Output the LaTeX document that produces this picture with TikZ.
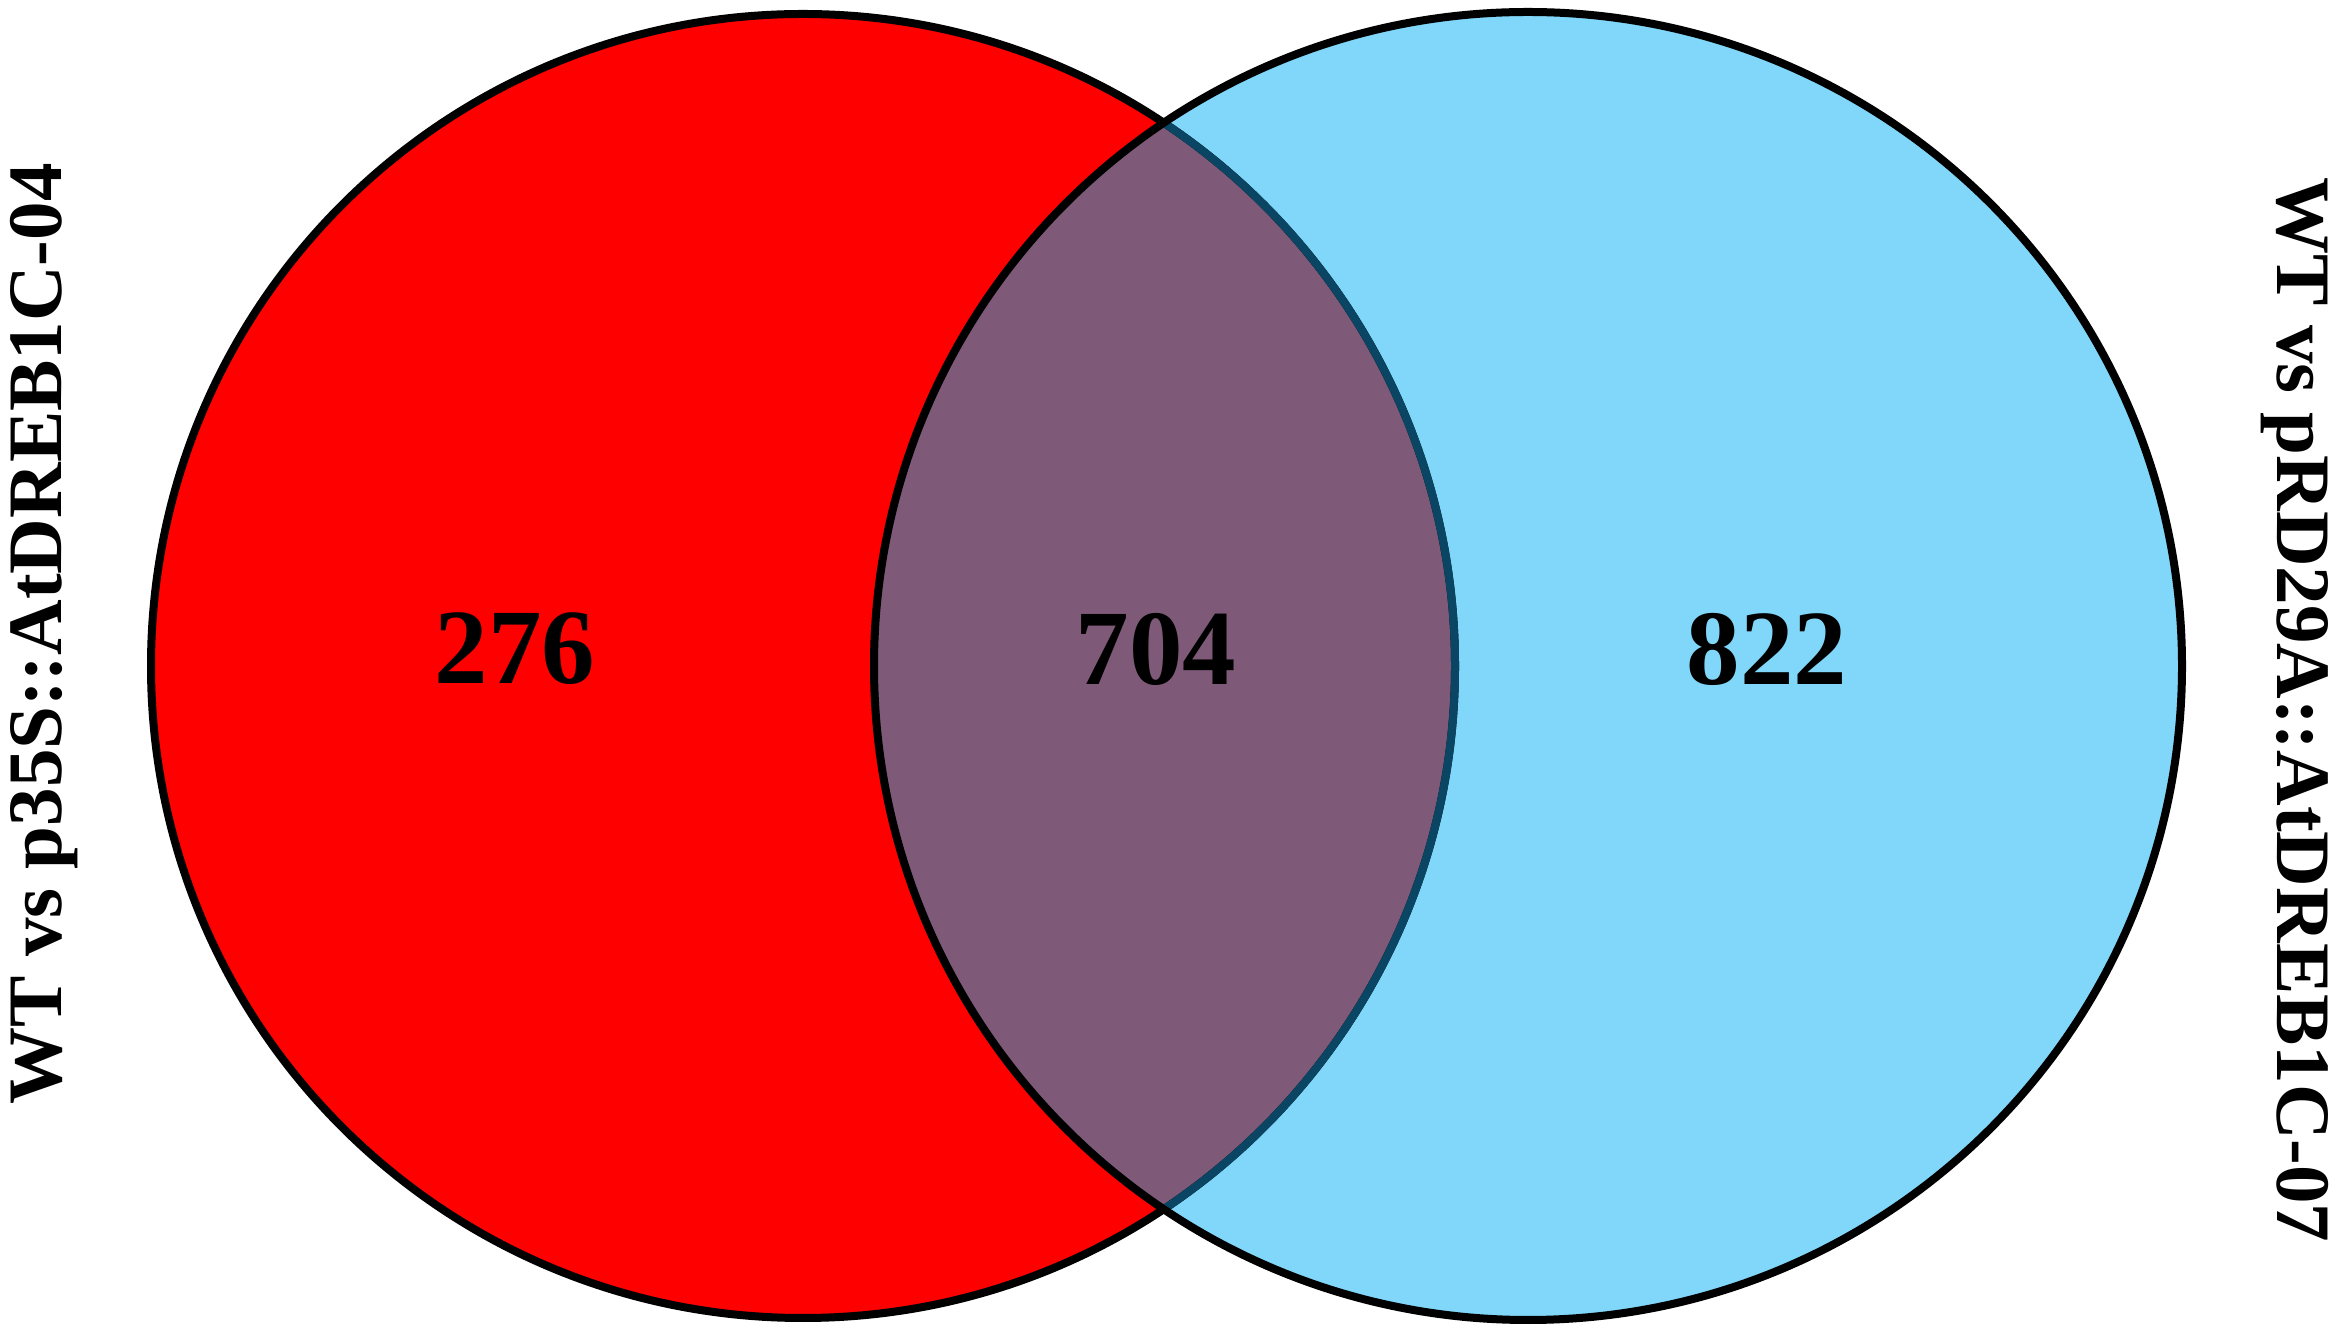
\documentclass[tikz,border=0pt]{standalone}
\usepackage{fontspec}
\setmainfont{Liberation Serif}
\definecolor{vred}{RGB}{255,0,0}
\definecolor{vblue}{RGB}{129,215,249}
\definecolor{vmix}{RGB}{127,90,120}
\definecolor{vteal}{RGB}{10,70,100}
\begin{document}
\begin{tikzpicture}[x=1pt,y=1pt,
  numtext/.style={font=\fontsize{107}{107}\selectfont\bfseries, inner sep=0pt},
  labtext/.style={font=\fontsize{77}{77}\selectfont\bfseries, inner sep=0pt}]
\useasboundingbox (0,0) rectangle (2339,1333);
\coordinate (cl) at (803,667);
\coordinate (cr) at (1528,667);
\fill[vred] (cl) circle (652);
\fill[vblue] (cr) circle (654);
\begin{scope}
  \clip (cl) circle (652);
  \fill[vmix] (cr) circle (654);
\end{scope}
\draw[line width=8pt, black] (cl) circle (652);
\begin{scope}
  \clip (cr) circle (654);
  \draw[line width=8pt, vteal] (cl) circle (652);
\end{scope}
\draw[line width=8pt, black] (cr) circle (654);
\node[numtext] (n1) at (515,684) {276};
\node[numtext] (n2) at (1156,684) {704};
\node[numtext] (n3) at (1767,684) {822};
\node[labtext, rotate=90] (l1) at (44,699) {WT vs p35S::AtDREB1C-04};
\node[labtext, rotate=-90] (l2) at (2295,623) {WT vs pRD29A::AtDREB1C-07};
\end{tikzpicture}
\end{document}
